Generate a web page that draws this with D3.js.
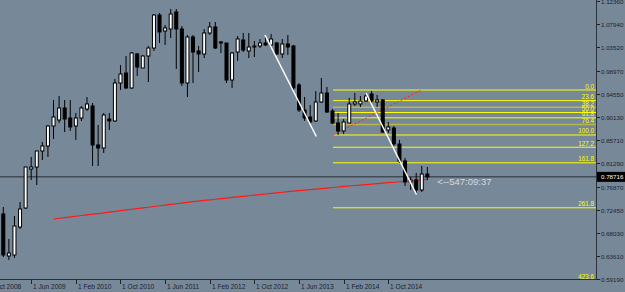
<!DOCTYPE html>
<html>
<head>
<meta charset="utf-8">
<script src="https://cdn.jsdelivr.net/npm/d3@7"></script>
<style>
  body { margin: 0; background: #778899; overflow: hidden; }
  svg text { font-family: "Liberation Sans", Arial, sans-serif; }
</style>
</head>
<body>
<svg id="chart"></svg>
<script>
// monthly bars, Jan 2009 .. May 2015
const firstMonth = new Date(2009, 0, 1);

const opens = [
  0.7162, 0.6359, 0.6378, 0.6913, 0.7276, 0.8022, 0.8060, 0.8366, 0.8462, 0.8844, 0.8959, 0.9188,
  0.8997, 0.8844, 0.8997, 0.9169, 0.9226, 0.8481, 0.8424, 0.8978, 0.8940, 0.9666, 0.9857, 0.9571,
  1.0221, 0.9953, 1.0182, 1.0335, 1.0966, 1.0660, 1.0699, 1.1024, 1.0699, 0.9666, 1.0546, 1.0278,
  1.0221, 1.0622, 1.0737, 1.0450, 1.0431, 0.9724, 1.0259, 1.0488, 1.0278, 1.0354, 1.0374, 1.0431,
  1.0393, 1.0431, 1.0221, 1.0412, 1.0374, 0.9628, 0.9150, 0.9016, 0.8940, 0.9303, 0.9475, 0.9131,
  0.8901, 0.8749, 0.8901, 0.9265, 0.9265, 0.9322, 0.9456, 0.9303, 0.9341, 0.8768, 0.8806, 0.8500,
  0.8175, 0.7774, 0.7812, 0.7621, 0.7926
];
const highs = [
  0.7295, 0.6684, 0.7124, 0.7391, 0.8060, 0.8252, 0.8366, 0.8538, 0.8863, 0.9341, 0.9418, 0.9341,
  0.9341, 0.9093, 0.9226, 0.9398, 0.9284, 0.8863, 0.9093, 0.9093, 0.9743, 1.0010, 1.0182, 1.0259,
  1.0240, 1.0201, 1.0374, 1.0985, 1.1004, 1.0775, 1.1081, 1.1081, 1.0756, 1.0584, 1.0584, 1.0374,
  1.0699, 1.0832, 1.0832, 1.0469, 1.0431, 1.0259, 1.0565, 1.0622, 1.0622, 1.0469, 1.0507, 1.0584,
  1.0603, 1.0450, 1.0507, 1.0584, 1.0393, 0.9666, 0.9399, 0.9246, 0.9513, 0.9762, 0.9590, 0.9169,
  0.9093, 0.8978, 0.9380, 0.9475, 0.9418, 0.9475, 0.9513, 0.9437, 0.9360, 0.8921, 0.8844, 0.8577,
  0.8233, 0.7869, 0.7946, 0.8079, 0.8060
];
const lows = [
  0.6340, 0.6282, 0.6321, 0.6875, 0.7257, 0.7812, 0.7716, 0.8194, 0.8252, 0.8596, 0.8901, 0.8729,
  0.8749, 0.8577, 0.8940, 0.9131, 0.8079, 0.8079, 0.8328, 0.8768, 0.8921, 0.9532, 0.9552, 0.9552,
  0.9800, 0.9953, 0.9685, 1.0278, 1.0431, 1.0393, 1.0526, 0.9934, 0.9609, 0.9399, 0.9666, 0.9877,
  1.0144, 1.0584, 1.0316, 1.0240, 0.9666, 0.9571, 1.0087, 1.0259, 1.0144, 1.0163, 1.0335, 1.0374,
  1.0393, 1.0201, 1.0144, 1.0201, 0.9532, 0.9112, 0.8940, 0.8901, 0.8921, 0.9284, 0.9093, 0.8882,
  0.8672, 0.8691, 0.8901, 0.9226, 0.9207, 0.9303, 0.9284, 0.9207, 0.8710, 0.8710, 0.8462, 0.8137,
  0.7697, 0.7621, 0.7563, 0.7582, 0.7812
];
const closes = [
  0.6378, 0.6416, 0.6932, 0.7257, 0.8060, 0.8060, 0.8366, 0.8462, 0.8844, 0.9016, 0.9188, 0.8978,
  0.8825, 0.8997, 0.9188, 0.9265, 0.8481, 0.8424, 0.9054, 0.8940, 0.9666, 0.9838, 0.9571, 1.0240,
  0.9972, 1.0182, 1.0335, 1.0966, 1.0641, 1.0718, 1.0985, 1.0699, 0.9666, 1.0546, 1.0259, 1.0221,
  1.0622, 1.0737, 1.0335, 1.0431, 0.9724, 1.0240, 1.0507, 1.0297, 1.0354, 1.0374, 1.0431, 1.0393,
  1.0507, 1.0221, 1.0412, 1.0354, 0.9571, 0.9150, 0.8997, 0.8921, 0.9303, 0.9475, 0.9112, 0.8901,
  0.8749, 0.8921, 0.9265, 0.9303, 0.9322, 0.9418, 0.9322, 0.9341, 0.8729, 0.8825, 0.8500, 0.8175,
  0.7774, 0.7812, 0.7621, 0.7926, 0.78716
];

// red moving average, Oct 2009 .. May 2015
const maStart = 9;
const maValues = [
  0.7066, 0.7080, 0.7093,
  0.7106, 0.7119, 0.7133, 0.7146, 0.7158, 0.7170, 0.7184, 0.7198, 0.7211, 0.7225, 0.7239, 0.7252,
  0.7265, 0.7278, 0.7291, 0.7305, 0.7319, 0.7332, 0.7345, 0.7358, 0.7371, 0.7384, 0.7397, 0.7409,
  0.7421, 0.7432, 0.7444, 0.7455, 0.7466, 0.7478, 0.7489, 0.7500, 0.7511, 0.7522, 0.7533, 0.7544,
  0.7555, 0.7566, 0.7577, 0.7588, 0.7598, 0.7608, 0.7618, 0.7628, 0.7638, 0.7648, 0.7658, 0.7668,
  0.7678, 0.7688, 0.7697, 0.7706, 0.7715, 0.7724, 0.7733, 0.7742, 0.7751, 0.7760, 0.7769, 0.7778,
  0.7787, 0.7796, 0.7805, 0.7814, 0.7822
];

const priceTicks = [1.12360, 1.07940, 1.03520, 0.98970, 0.94550, 0.90130, 0.85710,
                    0.81290, 0.76870, 0.72450, 0.68030, 0.63610, 0.59190];
const dateTicks = ["2008-10", "2009-06", "2010-02", "2010-10", "2011-06",
                   "2012-02", "2012-10", "2013-06", "2014-02", "2014-10"];

const fibLevels = [0, 23.6, 38.2, 50, 61.8, 76.4, 100, 127.2, 161.8, 261.8, 423.6];
const fibDim = [38.2, 76.4];
const fibFrom = { bar: 59.1, price: 0.8672 };
const fibTo   = { bar: 74.9, price: 0.9532 };

const trendLines = [
  { b1: 46.9, p1: 1.0584, b2: 56.1, p2: 0.8643 },
  { b1: 65.0, p1: 0.9475, b2: 74.05, p2: 0.7535 }
];

const bid = 0.78716;
const countdown = "<--547:09:37";

const W = 625, H = 292;
const plotR = 596, plotB = 279;

const svg = d3.select("#chart").attr("width", W).attr("height", H);
svg.append("rect").attr("width", W).attr("height", H).attr("fill", "#778899");

const x = d3.scaleLinear().domain([0, 69]).range([3.3, 388.3]);
const y = d3.scaleLinear().domain([0.5919, 1.0794]).range([279, 24]);

svg.append("defs").append("clipPath").attr("id", "plot")
  .append("rect").attr("width", plotR).attr("height", plotB);

const g = svg.append("g").attr("clip-path", "url(#plot)");

const bars = d3.range(opens.length).map(i => ({
  i, o: opens[i], h: highs[i], l: lows[i], c: closes[i]
}));

// red average
const ma = maValues.map((v, k) => ({ i: maStart + k, v }));
g.append("path")
  .datum(ma)
  .attr("fill", "none")
  .attr("stroke", "#ff1a1a")
  .attr("stroke-width", 1.2)
  .attr("d", d3.line().x(d => x(d.i)).y(d => y(d.v)));

// bid line
g.append("line")
  .attr("x1", 0).attr("x2", plotR)
  .attr("y1", y(bid)).attr("y2", y(bid))
  .attr("stroke", "#424c57").attr("stroke-width", 1.5);

// fibonacci
const fibRange = fibTo.price - fibFrom.price;
const fib = fibLevels.map(r => ({ r, p: fibTo.price - r / 100 * fibRange }));
g.selectAll(".fib").data(fib).enter().append("line")
  .attr("x1", x(fibFrom.bar)).attr("x2", plotR)
  .attr("y1", d => y(d.p)).attr("y2", d => y(d.p))
  .attr("stroke", d => fibDim.includes(d.r) ? "#b8b84a" : "#ffff00")
  .attr("stroke-width", d => fibDim.includes(d.r) ? 1.5 : 1);

g.selectAll(".fibl").data(fib).enter().append("text")
  .attr("x", plotR - 2).attr("y", d => y(d.p) - 1.5)
  .attr("text-anchor", "end")
  .attr("font-size", 6.3)
  .attr("fill", "#ffff00")
  .text(d => d.r.toFixed(1));

g.append("line")
  .attr("x1", x(fibFrom.bar)).attr("y1", y(fibFrom.price))
  .attr("x2", x(fibTo.bar)).attr("y2", y(fibTo.price))
  .attr("stroke", "#ff2020").attr("stroke-width", 1)
  .attr("stroke-dasharray", "2,2");

// candles
const cg = g.selectAll(".bar").data(bars).enter().append("g");
cg.append("line")
  .attr("x1", d => x(d.i)).attr("x2", d => x(d.i))
  .attr("y1", d => y(d.h)).attr("y2", d => y(d.l))
  .attr("stroke", "#000").attr("stroke-width", 1);
cg.append("rect")
  .attr("x", d => x(d.i) - 1.5)
  .attr("width", 3)
  .attr("y", d => y(Math.max(d.o, d.c)))
  .attr("height", d => Math.max(0.5, Math.abs(y(d.o) - y(d.c))))
  .attr("fill", d => d.c >= d.o ? "#fff" : "#000")
  .attr("stroke", "#000").attr("stroke-width", 1);

// trend lines
g.selectAll(".tl").data(trendLines).enter().append("line")
  .attr("x1", d => x(d.b1)).attr("y1", d => y(d.p1))
  .attr("x2", d => x(d.b2)).attr("y2", d => y(d.p2))
  .attr("stroke", "#fff").attr("stroke-width", 1.5);

// countdown text
g.append("text")
  .attr("x", x(76) + 10).attr("y", y(bid) + 8)
  .attr("font-size", 9.5)
  .attr("fill", "#d4dae2")
  .text(countdown);

// price axis
svg.append("line")
  .attr("x1", plotR + 0.5).attr("x2", plotR + 0.5)
  .attr("y1", 0).attr("y2", plotB + 1)
  .attr("stroke", "#2b3036");
const pt = svg.selectAll(".pt").data(priceTicks).enter().append("g")
  .attr("transform", d => `translate(${plotR + 1},${Math.round(y(d)) + 0.5})`);
pt.append("line").attr("x1", 0).attr("x2", 3).attr("stroke", "#222");
pt.append("text")
  .attr("x", 4).attr("dy", "0.35em")
  .attr("font-size", 6.2)
  .attr("fill", "#1c2230")
  .text(d => d.toFixed(5));

// bid tag
const bidY = y(bid);
svg.append("rect")
  .attr("x", plotR + 1).attr("y", bidY - 5)
  .attr("width", W - plotR - 1).attr("height", 10)
  .attr("fill", "#000");
svg.append("text")
  .attr("x", plotR + 5).attr("y", bidY).attr("dy", "0.35em")
  .attr("font-size", 6.2).attr("fill", "#fff")
  .text(bid.toFixed(5));

// time axis
svg.append("line")
  .attr("x1", 0).attr("x2", plotR + 1)
  .attr("y1", plotB + 0.5).attr("y2", plotB + 0.5)
  .attr("stroke", "#2b3036");
const monthIdx = s => {
  const [yy, mm] = s.split("-").map(Number);
  return d3.timeMonth.count(firstMonth, new Date(yy, mm - 1, 1));
};
const fmt = d3.timeFormat("%b %Y");
const dt = svg.selectAll(".dt").data(dateTicks).enter().append("g")
  .attr("transform", d => `translate(${Math.round(x(monthIdx(d))) + 0.5},${plotB})`);
dt.append("line").attr("y1", 1).attr("y2", 5).attr("stroke", "#222");
dt.append("text")
  .attr("x", 1.5).attr("y", 10)
  .attr("font-size", 6.6)
  .attr("fill", "#1c2230")
  .text(d => {
    const [yy, mm] = d.split("-").map(Number);
    return "1 " + fmt(new Date(yy, mm - 1, 1));
  });
</script>
</body>
</html>
